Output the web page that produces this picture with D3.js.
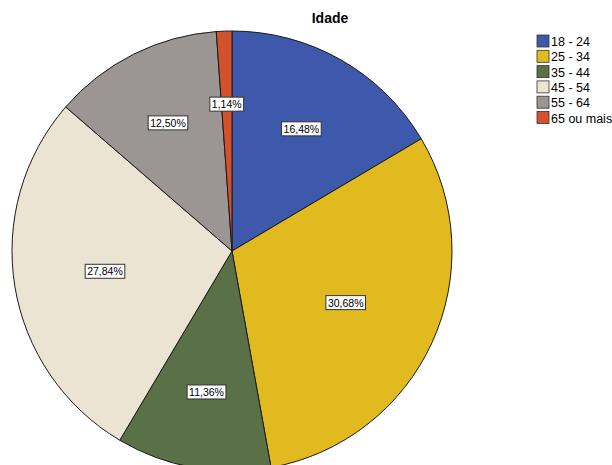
<!DOCTYPE html>
<html><head><meta charset="utf-8">
<script src="https://cdn.jsdelivr.net/npm/d3@7"></script>
<style>body{margin:0;background:#fff;}svg{display:block;font-family:"Liberation Sans",Arial,sans-serif;}</style>
</head><body>
<svg id="c" width="612" height="465"></svg>
<script>
const title = "Idade";
const categories = ["18 - 24","25 - 34","35 - 44","45 - 54","55 - 64","65 ou mais"];
const values = [16.48, 30.68, 11.36, 27.84, 12.50, 1.14];
const colors = ["#3E58AC","#E1BA1F","#5A7147","#EBE4D2","#9B9594","#D2522E"];

const svg = d3.select("#c");
const cx = 232, cy = 251, R = 220;

const pie = d3.pie().sort(null).value(d => d)(values);
const arc = d3.arc().innerRadius(0).outerRadius(R);
const color = d3.scaleOrdinal().domain(categories).range(colors);

const g = svg.append("g").attr("transform", `translate(${cx},${cy})`);
g.selectAll("path.slice").data(pie).enter().append("path")
  .attr("class","slice")
  .attr("d", arc)
  .attr("fill", (d,i) => color(categories[i]))
  .attr("stroke", "#1a1a1a").attr("stroke-width", 1);

// label at the area centroid of each sector
function labelPos(d){
  const th = d.endAngle - d.startAngle;
  const mid = (d.startAngle + d.endAngle) / 2;
  const r = th > 1e-6 ? 4 * R * Math.sin(th/2) / (3 * th) : 2*R/3;
  return [r * Math.sin(mid), -r * Math.cos(mid)];
}
const fmt = v => v.toFixed(2).replace(".", ",") + "%";
const lab = g.selectAll("g.lab").data(pie).enter().append("g")
  .attr("class","lab")
  .attr("transform", d => `translate(${labelPos(d)})`);
lab.each(function(d){
  const sel = d3.select(this);
  const t = sel.append("text").text(fmt(d.value))
    .attr("text-anchor","middle").attr("dy","0.35em")
    .attr("font-size","10.5px").attr("fill","#000");
  const bb = t.node().getBBox();
  sel.insert("rect","text")
    .attr("x", bb.x - 2).attr("y", bb.y - 1)
    .attr("width", bb.width + 4).attr("height", bb.height + 2)
    .attr("fill","#fff").attr("stroke","#333").attr("stroke-width",1);
});

svg.append("text").text(title)
  .attr("x", 330).attr("y", 23).attr("text-anchor","middle")
  .attr("font-size","14px").attr("font-weight","bold").attr("fill","#000");

const lg = svg.append("g").attr("transform","translate(537,35)");
const row = lg.selectAll("g").data(categories).enter().append("g")
  .attr("transform", (d,i) => `translate(0,${i*15.3})`);
row.append("rect").attr("width",12).attr("height",12)
  .attr("fill", d => color(d)).attr("stroke","#333").attr("stroke-width",0.8);
row.append("text").text(d => d).attr("x",14).attr("y",11)
  .attr("font-size","12.5px").attr("fill","#000");
</script>
</body></html>
